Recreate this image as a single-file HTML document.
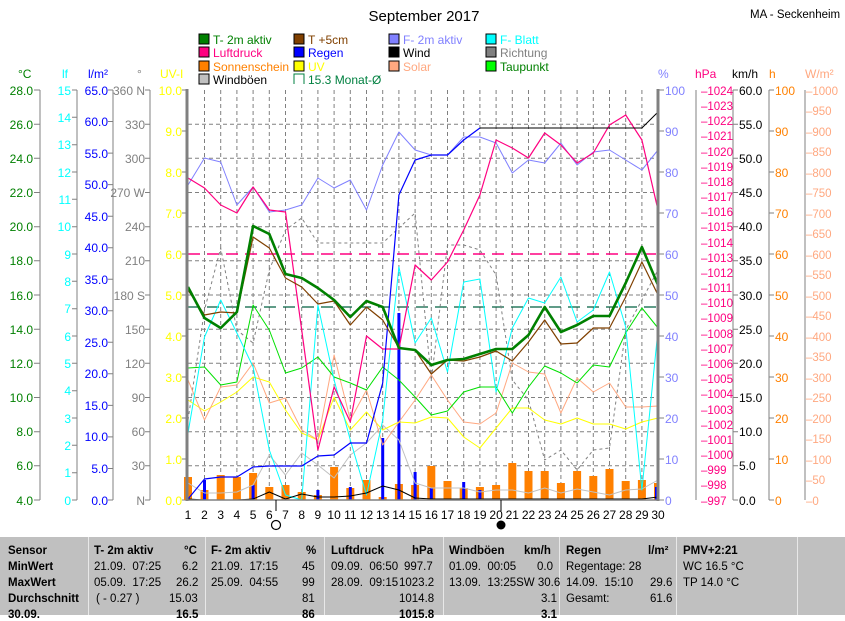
<!DOCTYPE html>
<html><head><meta charset="utf-8"><style>
body{margin:0;background:#fff;width:845px;height:615px;overflow:hidden;font-family:"Liberation Sans",sans-serif}
svg{position:absolute;left:0;top:0}
.t{position:absolute;top:537px;left:0;width:845px;height:78px;background:#c0c0c0;font-size:11.5px}
.r{position:absolute;white-space:nowrap}
.b{font-weight:bold}
.vl{position:absolute;top:537px;width:1px;height:78px;background:#e8e8e8}
</style></head><body>
<svg width="845" height="615" viewBox="0 0 845 615" font-family="Liberation Sans, sans-serif" font-size="12">
<text x="424" y="21" font-size="15" text-anchor="middle">September 2017</text>
<text x="750" y="18" font-size="11.5">MA - Seckenheim</text>
<!-- legend -->
<g font-size="12">
<rect x="199" y="34" width="10" height="10" fill="#008000" stroke="#000"/><text x="213" y="44" fill="#008000">T- 2m aktiv</text>
<rect x="199" y="47" width="10" height="10" fill="#ff0080" stroke="#000"/><text x="213" y="57" fill="#ff0080">Luftdruck</text>
<rect x="199" y="61" width="10" height="10" fill="#ff8000" stroke="#000"/><text x="213" y="71" fill="#ff8000">Sonnenschein</text>
<rect x="199" y="74" width="10" height="10" fill="#c0c0c0" stroke="#000"/><text x="213" y="84" fill="#000">Windböen</text>
<rect x="294" y="34" width="10" height="10" fill="#804000" stroke="#000"/><text x="308" y="44" fill="#804000">T +5cm</text>
<rect x="294" y="47" width="10" height="10" fill="#0000ff" stroke="#000"/><text x="308" y="57" fill="#0000ff">Regen</text>
<rect x="294" y="61" width="10" height="10" fill="#ffff00" stroke="#000"/><text x="308" y="71" fill="#ffff00">UV</text>
<path d="M294 84V74H304V84" fill="none" stroke="#008040"/><text x="308" y="84" fill="#008040">15.3 Monat-Ø</text>
<rect x="389" y="34" width="10" height="10" fill="#8080ff" stroke="#000"/><text x="403" y="44" fill="#8080ff">F- 2m aktiv</text>
<rect x="389" y="47" width="10" height="10" fill="#000" stroke="#000"/><text x="403" y="57">Wind</text>
<rect x="389" y="61" width="10" height="10" fill="#ffa880" stroke="#000"/><text x="403" y="71" fill="#ffa880">Solar</text>
<rect x="486" y="34" width="10" height="10" fill="#00ffff" stroke="#000"/><text x="500" y="44" fill="#00ffff">F- Blatt</text>
<rect x="486" y="47" width="10" height="10" fill="#808080" stroke="#000"/><text x="500" y="57" fill="#808080">Richtung</text>
<rect x="486" y="61" width="10" height="10" fill="#00ff00" stroke="#000"/><text x="500" y="71" fill="#008000">Taupunkt</text>
</g>
<!-- axis units -->
<text x="18" y="78" fill="#008000">°C</text><text x="62" y="78" fill="#00ffff">lf</text><text x="88" y="78" fill="#0000ff">l/m²</text><text x="137" y="78" fill="#808080">°</text><text x="160" y="78" fill="#ffff00">UV-I</text>
<text x="658" y="78" fill="#8080ff">%</text><text x="695" y="78" fill="#ff0080">hPa</text><text x="732" y="78">km/h</text><text x="769" y="78" fill="#ff8000">h</text><text x="805" y="78" fill="#ffa880">W/m²</text>
<!-- grid -->
<g stroke="#808080" stroke-dasharray="4,3" stroke-width="1">
<path d="M188 124.2H658M188 158.3H658M188 192.5H658M188 226.7H658M188 260.8H658M188 295H658M188 329.2H658M188 363.3H658M188 397.5H658M188 431.7H658M188 465.8H658"/>
<path d="M204.5 90V500M220.7 90V500M236.9 90V500M253.1 90V500M269.3 90V500M285.5 90V500M301.7 90V500M317.9 90V500M334.1 90V500M350.3 90V500M366.5 90V500M382.7 90V500M398.9 90V500M415.1 90V500M431.3 90V500M447.5 90V500M463.7 90V500M479.9 90V500M496.1 90V500M512.3 90V500M528.5 90V500M544.7 90V500M560.9 90V500M577.1 90V500M593.3 90V500M609.5 90V500M625.7 90V500M641.9 90V500"/>
</g>
<!-- left axes -->
<g stroke="#808080" fill="none">
<path d="M40 90V500M77 90V500M113 90V500M150 90V500"/>
<path d="M34 90H40M34 124.2H40M34 158.3H40M34 192.5H40M34 226.7H40M34 260.8H40M34 295H40M34 329.2H40M34 363.3H40M34 397.5H40M34 431.7H40M34 465.8H40M34 500H40"/>
<path d="M72 90H77M72 117.3H77M72 144.7H77M72 172H77M72 199.3H77M72 226.7H77M72 254H77M72 281.3H77M72 308.7H77M72 336H77M72 363.3H77M72 390.7H77M72 418H77M72 445.3H77M72 472.7H77M72 500H77"/>
<path d="M108 90H113M108 121.5H113M108 153.1H113M108 184.6H113M108 216.2H113M108 247.7H113M108 279.2H113M108 310.8H113M108 342.3H113M108 373.8H113M108 405.4H113M108 436.9H113M108 468.5H113M108 500H113"/>
<path d="M145 90H150M145 124.2H150M145 158.3H150M145 192.5H150M145 226.7H150M145 260.8H150M145 295H150M145 329.2H150M145 363.3H150M145 397.5H150M145 431.7H150M145 465.8H150M145 500H150"/>
<path d="M182 90H187M182 131H187M182 172H187M182 213H187M182 254H187M182 295H187M182 336H187M182 377H187M182 418H187M182 459H187M182 500H187"/>
</g>
<g text-anchor="end" fill="#008000"><text x="33" y="95">28.0</text><text x="33" y="129">26.0</text><text x="33" y="163">24.0</text><text x="33" y="197">22.0</text><text x="33" y="231">20.0</text><text x="33" y="265">18.0</text><text x="33" y="300">16.0</text><text x="33" y="334">14.0</text><text x="33" y="368">12.0</text><text x="33" y="402">10.0</text><text x="33" y="436">8.0</text><text x="33" y="470">6.0</text><text x="33" y="505">4.0</text></g>
<g text-anchor="end" fill="#00ffff"><text x="71" y="95">15</text><text x="71" y="122">14</text><text x="71" y="149">13</text><text x="71" y="177">12</text><text x="71" y="204">11</text><text x="71" y="231">10</text><text x="71" y="259">9</text><text x="71" y="286">8</text><text x="71" y="313">7</text><text x="71" y="341">6</text><text x="71" y="368">5</text><text x="71" y="395">4</text><text x="71" y="423">3</text><text x="71" y="450">2</text><text x="71" y="477">1</text><text x="71" y="505">0</text></g>
<g text-anchor="end" fill="#0000ff"><text x="108" y="95">65.0</text><text x="108" y="126">60.0</text><text x="108" y="158">55.0</text><text x="108" y="189">50.0</text><text x="108" y="221">45.0</text><text x="108" y="252">40.0</text><text x="108" y="284">35.0</text><text x="108" y="315">30.0</text><text x="108" y="347">25.0</text><text x="108" y="378">20.0</text><text x="108" y="410">15.0</text><text x="108" y="441">10.0</text><text x="108" y="473">5.0</text><text x="108" y="505">0.0</text></g>
<g text-anchor="end" fill="#808080"><text x="145" y="95">360 N</text><text x="145" y="129">330</text><text x="145" y="163">300</text><text x="145" y="197">270 W</text><text x="145" y="231">240</text><text x="145" y="265">210</text><text x="145" y="300">180 S</text><text x="145" y="334">150</text><text x="145" y="368">120</text><text x="145" y="402">90</text><text x="145" y="436">60</text><text x="145" y="470">30</text><text x="145" y="505">N</text></g>
<g text-anchor="end" fill="#ffff00"><text x="182" y="95">10.0</text><text x="182" y="136">9.0</text><text x="182" y="177">8.0</text><text x="182" y="218">7.0</text><text x="182" y="259">6.0</text><text x="182" y="300">5.0</text><text x="182" y="341">4.0</text><text x="182" y="382">3.0</text><text x="182" y="423">2.0</text><text x="182" y="464">1.0</text><text x="182" y="505">0.0</text></g>
<!-- right axes -->
<g stroke="#808080" fill="none">
<path d="M696 90V500M733 90V500M769 90V500M805 90V500"/>
<path d="M658 90H664M658 131H664M658 172H664M658 213H664M658 254H664M658 295H664M658 336H664M658 377H664M658 418H664M658 459H664M658 500H664"/>
<path d="M733 90H738M733 124.2H738M733 158.3H738M733 192.5H738M733 226.7H738M733 260.8H738M733 295H738M733 329.2H738M733 363.3H738M733 397.5H738M733 431.7H738M733 465.8H738M733 500H738"/>
<path d="M769 90H774M769 131H774M769 172H774M769 213H774M769 254H774M769 295H774M769 336H774M769 377H774M769 418H774M769 459H774M769 500H774"/>
</g>
<g fill="#8080ff"><text x="665" y="95">100</text><text x="665" y="136">90</text><text x="665" y="177">80</text><text x="665" y="218">70</text><text x="665" y="259">60</text><text x="665" y="300">50</text><text x="665" y="341">40</text><text x="665" y="382">30</text><text x="665" y="423">20</text><text x="665" y="464">10</text><text x="665" y="505">0</text></g>
<g fill="#ff0080" font-size="11.5"><text x="701" y="95">–1024</text><text x="701" y="110">–1023</text><text x="701" y="125">–1022</text><text x="701" y="140">–1021</text><text x="701" y="156">–1020</text><text x="701" y="171">–1019</text><text x="701" y="186">–1018</text><text x="701" y="201">–1017</text><text x="701" y="216">–1016</text><text x="701" y="231">–1015</text><text x="701" y="247">–1014</text><text x="701" y="262">–1013</text><text x="701" y="277">–1012</text><text x="701" y="292">–1011</text><text x="701" y="307">–1010</text><text x="701" y="322">–1009</text><text x="701" y="338">–1008</text><text x="701" y="353">–1007</text><text x="701" y="368">–1006</text><text x="701" y="383">–1005</text><text x="701" y="398">–1004</text><text x="701" y="414">–1003</text><text x="701" y="429">–1002</text><text x="701" y="444">–1001</text><text x="701" y="459">–1000</text><text x="701" y="474">–999</text><text x="701" y="489">–998</text><text x="701" y="505">–997</text></g>
<g><text x="739" y="95">60.0</text><text x="739" y="129">55.0</text><text x="739" y="163">50.0</text><text x="739" y="197">45.0</text><text x="739" y="231">40.0</text><text x="739" y="265">35.0</text><text x="739" y="300">30.0</text><text x="739" y="334">25.0</text><text x="739" y="368">20.0</text><text x="739" y="402">15.0</text><text x="739" y="436">10.0</text><text x="739" y="470">5.0</text><text x="739" y="505">0.0</text></g>
<g fill="#ff8000"><text x="775" y="95">100</text><text x="775" y="136">90</text><text x="775" y="177">80</text><text x="775" y="218">70</text><text x="775" y="259">60</text><text x="775" y="300">50</text><text x="775" y="341">40</text><text x="775" y="382">30</text><text x="775" y="423">20</text><text x="775" y="464">10</text><text x="775" y="505">0</text></g>
<g fill="#ffa880" font-size="11.5"><text x="806" y="95">–1000</text><text x="806" y="136">–900</text><text x="806" y="177">–800</text><text x="806" y="218">–700</text><text x="806" y="259">–600</text><text x="806" y="300">–500</text><text x="806" y="341">–400</text><text x="806" y="382">–300</text><text x="806" y="423">–200</text><text x="806" y="464">–100</text><text x="806" y="505">–0</text><text x="806" y="115">–950</text><text x="806" y="156">–850</text><text x="806" y="197">–750</text><text x="806" y="238">–650</text><text x="806" y="279">–550</text><text x="806" y="320">–450</text><text x="806" y="361">–350</text><text x="806" y="402">–250</text><text x="806" y="443">–150</text><text x="806" y="484">–50</text></g>
<!-- sunshine bars -->
<g fill="#ff8000">
<rect x="184" y="477" width="8" height="23"/><rect x="200.5" y="490" width="8" height="10"/><rect x="216.7" y="475" width="8" height="25"/><rect x="232.9" y="477" width="8" height="23"/><rect x="249.1" y="473" width="8" height="27"/><rect x="265.3" y="487" width="8" height="13"/><rect x="281.5" y="485" width="8" height="15"/><rect x="297.7" y="492" width="8" height="8"/><rect x="313.9" y="495" width="8" height="5"/><rect x="330.1" y="467" width="8" height="33"/><rect x="346.3" y="488" width="8" height="12"/><rect x="362.5" y="480" width="8" height="20"/><rect x="378.7" y="497" width="8" height="3"/><rect x="394.9" y="484" width="8" height="16"/><rect x="411.1" y="485" width="8" height="15"/><rect x="427.3" y="466" width="8" height="34"/><rect x="443.5" y="481" width="8" height="19"/><rect x="459.7" y="488" width="8" height="12"/><rect x="475.9" y="487" width="8" height="13"/><rect x="492.1" y="485" width="8" height="15"/><rect x="508.3" y="463" width="8" height="37"/><rect x="524.5" y="471" width="8" height="29"/><rect x="540.7" y="471" width="8" height="29"/><rect x="556.9" y="483" width="8" height="17"/><rect x="573.1" y="471" width="8" height="29"/><rect x="589.3" y="476" width="8" height="24"/><rect x="605.5" y="469" width="8" height="31"/><rect x="621.7" y="481" width="8" height="19"/><rect x="637.9" y="480" width="8" height="20"/><rect x="654" y="483" width="4" height="17"/>
</g>
<!-- rain bars -->
<g fill="#0000ff"><rect x="203" y="480" width="3" height="20"/><rect x="251.6" y="485" width="3" height="15"/><rect x="316.4" y="490" width="3" height="10"/><rect x="348.8" y="487" width="3" height="13"/><rect x="381.2" y="438" width="3" height="62"/><rect x="397.4" y="313" width="3" height="187"/><rect x="413.6" y="472" width="3" height="28"/><rect x="429.8" y="488" width="3" height="12"/><rect x="462.2" y="482" width="3" height="18"/><rect x="478.4" y="490" width="3" height="10"/><rect x="655" y="487" width="3" height="13"/></g>
<!-- monthly avg lines -->
<path d="M188 254H658" stroke="#ff0080" stroke-width="1.5" stroke-dasharray="12,7"/>
<path d="M188 307H658" stroke="#006040" stroke-width="1.2" stroke-dasharray="12,7"/>
<g fill="none" stroke-linejoin="round">
<polyline stroke="#808080" stroke-dasharray="3,3" points="188,420 204.5,310 220.7,248 236.9,330 253.1,343 269.3,270 285.5,230 301.7,218 317.9,243 334.1,243 350.3,243 366.5,243 382.7,243 398.9,228 415.1,213 431.3,380 447.5,245 463.7,245 479.9,250 496.1,275 512.3,380 528.5,400 544.7,460 560.9,450 577.1,470 593.3,450 609.5,448 625.7,330 641.9,300 658,270"/>
<polyline stroke="#c0c0c0" points="188,483 204.5,493 220.7,493 236.9,492 253.1,485 269.3,455 285.5,475 301.7,453 317.9,465 334.1,478 350.3,455 366.5,443 382.7,425 398.9,440 415.1,483 431.3,488 447.5,488 463.7,488 479.9,492 496.1,490 512.3,490 528.5,493 544.7,488 560.9,493 577.1,489 593.3,492 609.5,495 625.7,490 641.9,489 658,480"/>
<polyline stroke="#ffff00" points="188,400 204.5,411 220.7,402 236.9,392 253.1,377 269.3,382 285.5,410 301.7,433 317.9,440 334.1,397 350.3,430 366.5,412 382.7,430 398.9,422 415.1,423 431.3,417 447.5,418 463.7,437 479.9,448 496.1,428 512.3,408 528.5,408 544.7,420 560.9,424 577.1,418 593.3,424 609.5,424 625.7,429 641.9,422 658,418"/>
<polyline stroke="#ffa880" points="188,380 204.5,420 220.7,387 236.9,385 253.1,363 269.3,403 285.5,398 301.7,430 317.9,440 334.1,355 350.3,420 366.5,390 382.7,445 398.9,422 415.1,400 431.3,375 447.5,400 463.7,422 479.9,424 496.1,413 512.3,363 528.5,372 544.7,374 560.9,413 577.1,378 593.3,392 609.5,383 625.7,407 641.9,407 658,406"/>
<polyline stroke="#00e000" points="188,368 204.5,367 220.7,385 236.9,382 253.1,305 269.3,330 285.5,373 301.7,368 317.9,357 334.1,377 350.3,383 366.5,390 382.7,367 398.9,380 415.1,397 431.3,415 447.5,411 463.7,392 479.9,387 496.1,387 512.3,413 528.5,387 544.7,366 560.9,373 577.1,383 593.3,365 609.5,367 625.7,333 641.9,308 658,328"/>
<polyline stroke="#00ffff" points="188,433 204.5,337 220.7,300 236.9,333 253.1,367 269.3,450 285.5,495 301.7,500 317.9,305 334.1,380 350.3,440 366.5,495 382.7,420 398.9,267 415.1,343 431.3,318 447.5,372 463.7,282 479.9,279 496.1,392 512.3,328 528.5,298 544.7,303 560.9,277 577.1,322 593.3,310 609.5,272 625.7,327 641.9,490 658,330"/>
<polyline stroke="#8080ff" points="188,185 204.5,158 220.7,162 236.9,205 253.1,187 269.3,212 285.5,210 301.7,205 317.9,178 334.1,188 350.3,180 366.5,210 382.7,165 398.9,132 415.1,150 431.3,155 447.5,155 463.7,137 479.9,137 496.1,143 512.3,173 528.5,160 544.7,163 560.9,143 577.1,165 593.3,152 609.5,150 625.7,160 641.9,170 658,150"/>
<polyline stroke="#ff0080" stroke-width="1.2" points="188,178 204.5,188 220.7,205 236.9,213 253.1,187 269.3,210 285.5,212 301.7,330 317.9,450 334.1,387 350.3,422 366.5,336 382.7,349 398.9,349 415.1,265 431.3,280 447.5,262 463.7,230 479.9,195 496.1,140 512.3,148 528.5,158 544.7,133 560.9,145 577.1,163 593.3,153 609.5,125 625.7,115 641.9,140 658,210"/>
<polyline stroke="#000" points="188,499 204.5,500 220.7,500 236.9,500 253.1,499 269.3,492 285.5,499 301.7,494 317.9,497 334.1,497 350.3,496 366.5,493 382.7,486 398.9,490 415.1,498 431.3,499 447.5,499 463.7,499 479.9,499 496.1,499 512.3,499 528.5,499 544.7,499 560.9,499 577.1,499 593.3,499 609.5,499 625.7,499 641.9,499 658,497"/>
<polyline stroke="#0000ff" stroke-width="1.2" points="188,499 204.5,479 220.7,477 236.9,477 253.1,467 269.3,466 285.5,466 301.7,466 317.9,456 334.1,455 350.3,443 366.5,443 382.7,383 398.9,195 415.1,160 431.3,155 447.5,155 463.7,140 479.9,128"/>
<polyline stroke="#000" points="479.9,128 641.9,128 658,112"/>
<polyline stroke="#804000" stroke-width="1.2" points="188,290 204.5,315 220.7,312 236.9,313 253.1,237 269.3,248 285.5,278 301.7,287 317.9,304 334.1,301 350.3,325 366.5,307 382.7,320 398.9,348 415.1,350 431.3,374 447.5,360 463.7,361 479.9,357 496.1,351 512.3,361 528.5,342 544.7,320 560.9,344 577.1,343 593.3,328 609.5,328 625.7,297 641.9,262 658,295"/>
<polyline stroke="#008000" stroke-width="2.6" points="188,287 204.5,318 220.7,328 236.9,312 253.1,226 269.3,234 285.5,274 301.7,278 317.9,288 334.1,300 350.3,317 366.5,301 382.7,307 398.9,348 415.1,350 431.3,365 447.5,360 463.7,359 479.9,354 496.1,349 512.3,349 528.5,335 544.7,307 560.9,332 577.1,325 593.3,316 609.5,316 625.7,283 641.9,247 658,285"/>
</g>
<!-- frame -->
<path d="M187 89V501M658 89V501" stroke="#808080" stroke-width="3"/>
<path d="M186 500H659" stroke="#808080" stroke-width="1.5"/>
<!-- day labels -->
<g text-anchor="middle" font-size="12"><text x="188" y="519">1</text><text x="204.5" y="519">2</text><text x="220.7" y="519">3</text><text x="236.9" y="519">4</text><text x="253.1" y="519">5</text><text x="269.3" y="519">6</text><text x="285.5" y="519">7</text><text x="301.7" y="519">8</text><text x="317.9" y="519">9</text><text x="334.1" y="519">10</text><text x="350.3" y="519">11</text><text x="366.5" y="519">12</text><text x="382.7" y="519">13</text><text x="398.9" y="519">14</text><text x="415.1" y="519">15</text><text x="431.3" y="519">16</text><text x="447.5" y="519">17</text><text x="463.7" y="519">18</text><text x="479.9" y="519">19</text><text x="496.1" y="519">20</text><text x="512.3" y="519">21</text><text x="528.5" y="519">22</text><text x="544.7" y="519">23</text><text x="560.9" y="519">24</text><text x="577.1" y="519">25</text><text x="593.3" y="519">26</text><text x="609.5" y="519">27</text><text x="625.7" y="519">28</text><text x="641.9" y="519">29</text><text x="658" y="519">30</text></g>
<path d="M276 500V511M501 500V511" stroke="#000"/>
<circle cx="276" cy="525" r="4.5" fill="#fff" stroke="#000" stroke-width="1.2"/>
<circle cx="501" cy="525" r="4.5" fill="#000"/>
</svg>
<div class="t">
<div class="vl" style="left:88px;top:0"></div><div class="vl" style="left:205px;top:0"></div><div class="vl" style="left:324px;top:0"></div><div class="vl" style="left:443px;top:0"></div><div class="vl" style="left:559px;top:0"></div><div class="vl" style="left:676px;top:0"></div><div class="vl" style="left:797px;top:0"></div>
<div class="r b" style="left:8px;top:8px">Sensor</div><div class="r b" style="left:8px;top:24px">MinWert</div><div class="r b" style="left:8px;top:40px">MaxWert</div><div class="r b" style="left:8px;top:56px">Durchschnitt</div><div class="r b" style="left:8px;top:72px">30.09.</div>
<div class="r b" style="left:94px;top:8px">T- 2m aktiv</div><div class="r b" style="left:184px;top:8px">°C</div>
<div class="r" style="left:94px;top:24px">21.09.&nbsp; 07:25</div><div class="r" style="left:182px;top:24px">6.2</div>
<div class="r" style="left:94px;top:40px">05.09.&nbsp; 17:25</div><div class="r" style="left:176px;top:40px">26.2</div>
<div class="r" style="left:96px;top:56px">( - 0.27 )</div><div class="r" style="left:169px;top:56px">15.03</div><div class="r b" style="left:176px;top:72px">16.5</div>
<div class="r b" style="left:211px;top:8px">F- 2m aktiv</div><div class="r b" style="left:306px;top:8px">%</div>
<div class="r" style="left:211px;top:24px">21.09.&nbsp; 17:15</div><div class="r" style="left:302px;top:24px">45</div>
<div class="r" style="left:211px;top:40px">25.09.&nbsp; 04:55</div><div class="r" style="left:302px;top:40px">99</div>
<div class="r" style="left:302px;top:56px">81</div><div class="r b" style="left:302px;top:72px">86</div>
<div class="r b" style="left:331px;top:8px">Luftdruck</div><div class="r b" style="left:412px;top:8px">hPa</div>
<div class="r" style="left:331px;top:24px">09.09.&nbsp; 06:50</div><div class="r" style="left:404px;top:24px">997.7</div>
<div class="r" style="left:331px;top:40px">28.09.&nbsp; 09:15</div><div class="r" style="left:399px;top:40px">1023.2</div>
<div class="r" style="left:399px;top:56px">1014.8</div><div class="r b" style="left:399px;top:72px">1015.8</div>
<div class="r b" style="left:449px;top:8px">Windböen</div><div class="r b" style="left:524px;top:8px">km/h</div>
<div class="r" style="left:449px;top:24px">01.09.&nbsp; 00:05</div><div class="r" style="left:537px;top:24px">0.0</div>
<div class="r" style="left:449px;top:40px">13.09.&nbsp; 13:25SW 30.6</div>
<div class="r" style="left:541px;top:56px">3.1</div><div class="r b" style="left:541px;top:72px">3.1</div>
<div class="r b" style="left:566px;top:8px">Regen</div><div class="r b" style="left:648px;top:8px">l/m²</div>
<div class="r" style="left:566px;top:24px">Regentage: 28</div>
<div class="r" style="left:566px;top:40px">14.09.&nbsp; 15:10</div><div class="r" style="left:650px;top:40px">29.6</div>
<div class="r" style="left:566px;top:56px">Gesamt:</div><div class="r" style="left:650px;top:56px">61.6</div>
<div class="r b" style="left:683px;top:8px">PMV+2:21</div>
<div class="r" style="left:683px;top:24px">WC 16.5 °C</div><div class="r" style="left:683px;top:40px">TP 14.0 °C</div>
</div>
</body></html>
